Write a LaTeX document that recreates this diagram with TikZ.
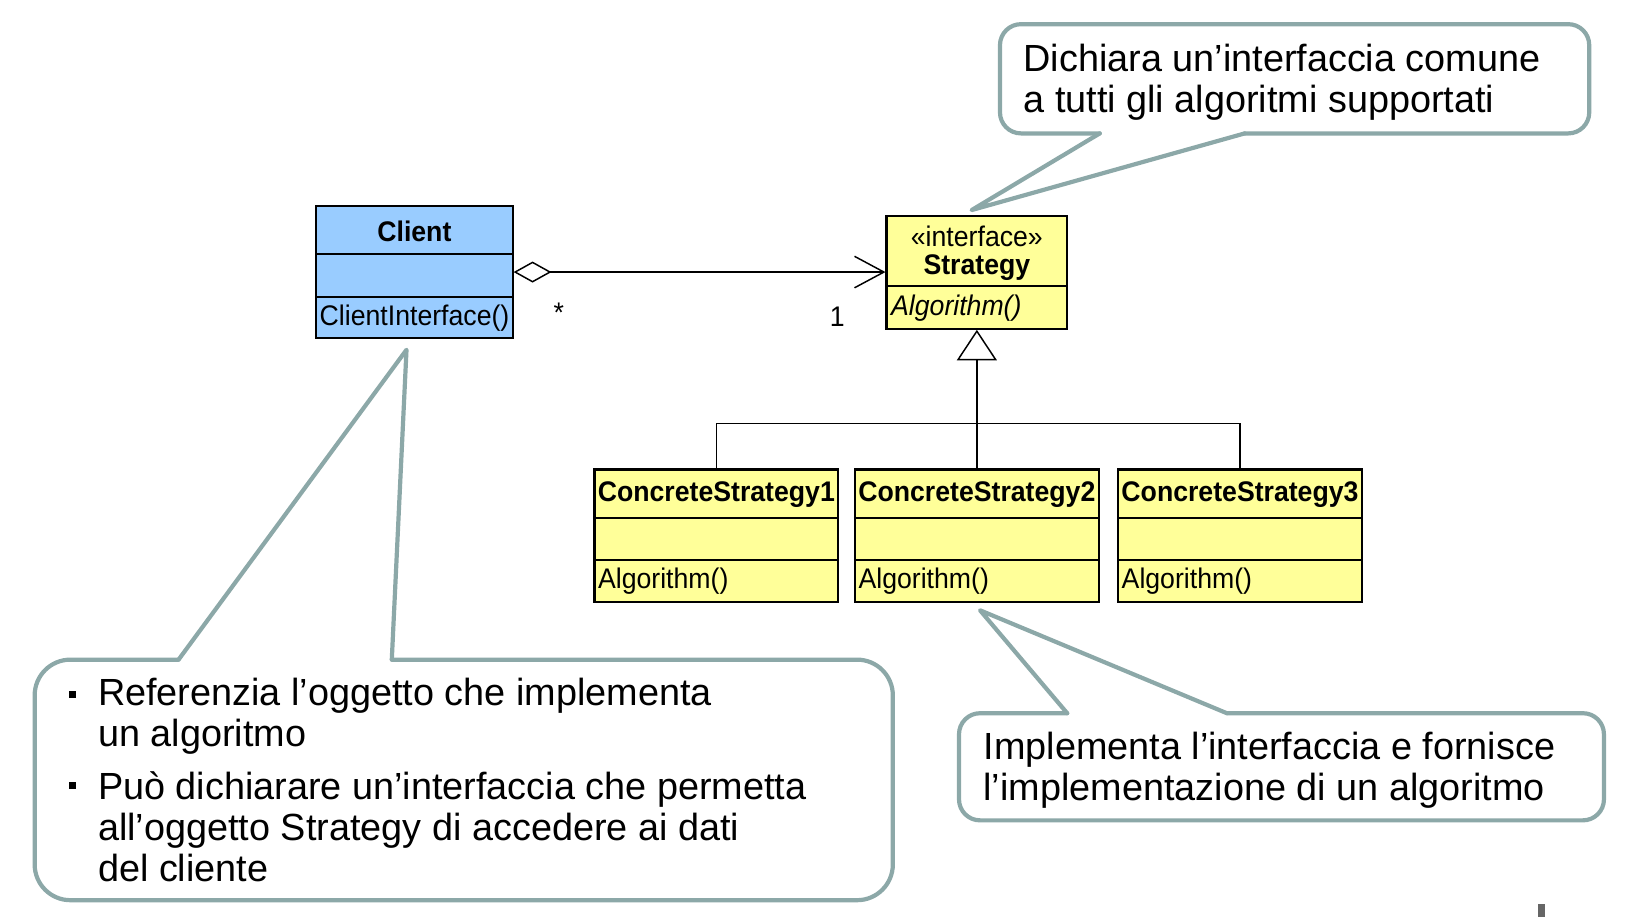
\documentclass[tikz,border=0pt]{standalone}
\usepackage{fontspec}
\setmainfont{Liberation Sans}
\newfontfamily\umlfam[FakeStretch=0.94]{Liberation Sans}
\usetikzlibrary{arrows.meta}
\definecolor{clientblue}{RGB}{153,204,255}
\definecolor{stratyellow}{RGB}{255,255,153}
\definecolor{callgray}{RGB}{140,168,168}
\newcommand{\umlsize}{\umlfam\fontsize{13.5}{15.5}\selectfont}
\newcommand{\callsize}{\fontsize{18}{19.5}\selectfont}
\tikzset{
  umlbox/.style={draw, line width=1pt, inner sep=0pt},
  umltxt/.style={font=\umlsize, inner sep=0pt},
  umlbold/.style={font=\umlsize\bfseries, inner sep=0pt},
  divider/.style={line width=1pt},
  conn/.style={line width=0.7pt},
  callout/.style={draw=callgray, line width=2pt, line cap=round, line join=round},
  ctext/.style={font=\callsize, inner sep=0pt, align=left, anchor=west},
  bulletsq/.style={fill=black, minimum size=3.5pt, inner sep=0pt}
}
\begin{document}
\begin{tikzpicture}[x=0.5pt,y=-0.5pt]
\useasboundingbox (0,0) rectangle (1568,873);

% Client
\node[umlbox, fill=clientblue, minimum width=93.5pt, minimum height=63pt] (client) at (394.5,259) {};
\draw[divider] (client.west |- 0,242) -- (client.east |- 0,242);
\draw[divider] (client.west |- 0,283) -- (client.east |- 0,283);
\node[umlbold] (clientname) at (394.5,220) {Client};
\node[umltxt, anchor=west] (clientop) at (304,303) {ClientInterface()};

% Strategy
\node[umlbox, fill=stratyellow, minimum width=86pt, minimum height=53.5pt] (strategy) at (930,259.5) {};
\draw[divider] (strategy.west |- 0,272) -- (strategy.east |- 0,272);
\node[umltxt] (stereo) at (930,225) {«interface»};
\node[umlbold] (stratname) at (930,255) {Strategy};
\node[umltxt, anchor=west, font=\umlsize\itshape] (stratop) at (848,293) {Algorithm()};

% Concrete strategies
\foreach \n/\cx in {1/682,2/930,3/1180.5}{
  \node[umlbox, fill=stratyellow, minimum width=116pt, minimum height=63pt] (cs\n) at (\cx,510) {};
  \draw[divider] (cs\n.west |- 0,493) -- (cs\n.east |- 0,493);
  \draw[divider] (cs\n.west |- 0,533) -- (cs\n.east |- 0,533);
  \node[umlbold] (csname\n) at (\cx,471) {ConcreteStrategy\n};
  \node[umltxt, anchor=west] (csop\n) at ([xshift=2pt]cs\n.west |- 0,553) {Algorithm()};
}

% Association
\draw[conn, {Diamond[fill=white,length=18pt,width=10pt]}-{Straight Barb[length=14pt,width=15pt]}]
  (client.east |- 0,259) -- (strategy.west |- 0,259);
\node[umltxt] (multstar) at (532,298) {*};
\node[umltxt] (multone) at (797,302) {1};

% Generalization
\draw[conn, -{Triangle[open,fill=white,length=14.5pt,width=19pt]}] (cs2.north) -- (strategy.south);
\draw[conn] (cs1.north) -- (cs1.north |- 0,403) -- (cs3.north |- 0,403) -- (cs3.north);

% Callout 1 (top right)
\draw[callout] (1047,127) -- (925,200) -- (1185,127);
\draw[callout, rounded corners=10pt] (1185,127) -- (1513,127) -- (1513,23) -- (952,23) -- (952,127) -- (1047,127);
\node[ctext] (c1text) at (974,78) {Dichiara un’interfaccia comune\\a tutti gli algoritmi supportati};

% Callout 2 (bottom left)
\draw[callout] (170,628) -- (387,333) -- (373,628);
\draw[callout, rounded corners=17pt] (373,628) -- (850,628) -- (850,857) -- (33,857) -- (33,628) -- (170,628);
\node[bulletsq] (b1) at (69,661) {};
\node[bulletsq] (b2) at (69,748) {};
\node[ctext] (c2texta) at (93,682) {Referenzia l’oggetto che implementa\\un algoritmo};
\node[ctext] (c2textb) at (93,787) {Può dichiarare un’interfaccia che permetta\\all’oggetto Strategy di accedere ai dati\\del cliente};

% Callout 3 (bottom right)
\draw[callout] (1016,679) -- (933,581) -- (1168,679);
\draw[callout, rounded corners=10pt] (1168,679) -- (1527,679) -- (1527,781) -- (913,781) -- (913,679) -- (1016,679);
\node[ctext] (c3text) at (936,733) {Implementa l’interfaccia e fornisce\\l’implementazione di un algoritmo};

% small mark bottom right
\fill[black!60] (1464,861) rectangle (1471,873);
\end{tikzpicture}
\end{document}
